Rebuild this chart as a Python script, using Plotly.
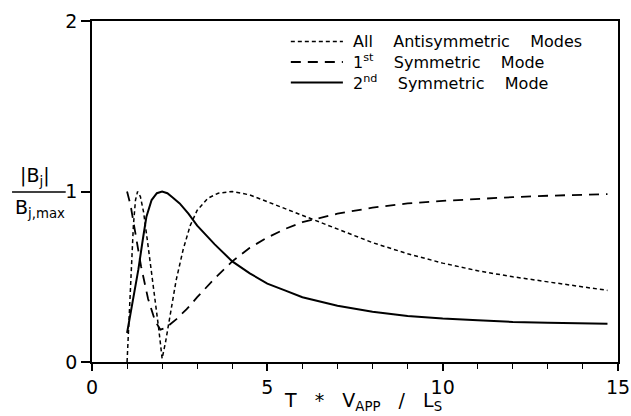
import plotly.graph_objects as go

# Data
anti_x = [1.0, 1.06, 1.12, 1.18, 1.24, 1.3, 1.38, 1.47, 1.6, 1.75, 1.9, 2.0, 2.1, 2.25, 2.4, 2.6,
          2.8, 3.0, 3.3, 3.6, 4.0, 4.5, 5.0, 5.5, 6.0, 7.0, 8.0, 9.0, 10.0, 11.0, 12.0, 13.0, 14.0, 14.7]
anti_y = [0.0, 0.3, 0.55, 0.8, 0.95, 1.0, 0.97, 0.88, 0.68, 0.45, 0.2, 0.02, 0.12, 0.3, 0.48, 0.66,
          0.8, 0.89, 0.96, 0.99, 1.0, 0.98, 0.94, 0.9, 0.86, 0.78, 0.7, 0.635, 0.58, 0.535, 0.5, 0.47, 0.44, 0.42]

sym1_x = [1.0, 1.1, 1.2, 1.4, 1.6, 1.8, 1.95, 2.1, 2.4, 2.7, 3.0, 3.5, 4.0, 4.5, 5.0, 5.5, 6.0,
          7.0, 8.0, 9.0, 10.0, 11.0, 12.0, 13.0, 14.0, 14.7]
sym1_y = [1.0, 0.92, 0.8, 0.56, 0.37, 0.24, 0.19, 0.2, 0.25, 0.31, 0.38, 0.49, 0.59, 0.67, 0.73, 0.78, 0.82,
          0.87, 0.905, 0.93, 0.945, 0.957, 0.967, 0.975, 0.982, 0.985]

sym2_x = [1.0, 1.1, 1.2, 1.32, 1.45, 1.55, 1.7, 1.85, 2.0, 2.15, 2.3, 2.5, 2.75, 3.0, 3.5, 4.0, 4.5,
          5.0, 5.5, 6.0, 7.0, 8.0, 9.0, 10.0, 11.0, 12.0, 13.0, 14.0, 14.7]
sym2_y = [0.17, 0.28, 0.4, 0.54, 0.72, 0.85, 0.95, 0.99, 1.0, 0.99, 0.965, 0.93, 0.87, 0.8, 0.69, 0.59, 0.52,
          0.46, 0.42, 0.38, 0.33, 0.295, 0.27, 0.255, 0.245, 0.235, 0.23, 0.225, 0.225]

names = ["All    Antisymmetric    Modes",
         "1<sup>st</sup>    Symmetric    Mode",
         "2<sup>nd</sup>    Symmetric    Mode"]
x_ticks = [0, 5, 10, 15]
y_ticks = [0, 1, 2]

FONT = "DejaVu Sans"
styles = [dict(color="black", width=1.5, dash="4px,3px"),
          dict(color="black", width=1.8, dash="10px,7px"),
          dict(color="black", width=2)]

fig = go.Figure()
for xs, ys, nm, st in zip([anti_x, sym1_x, sym2_x], [anti_y, sym1_y, sym2_y], names, styles):
    fig.add_trace(go.Scatter(x=xs, y=ys, mode="lines", name=nm, line=st, showlegend=False))

fig.update_layout(
    width=631, height=416,
    margin=dict(l=92, r=13, t=21, b=54),
    paper_bgcolor="white", plot_bgcolor="white",
    font=dict(family=FONT, color="black", size=16),
    showlegend=False,
)

fig.update_xaxes(range=[0, 15], tickvals=x_ticks, ticks="outside", ticklen=7,
                 tickwidth=1.5, tickcolor="black", showline=True, linecolor="black",
                 linewidth=1.5, mirror=True, showgrid=False, zeroline=False, automargin=False,
                 tickfont=dict(size=19, family=FONT),
                 minor=dict(dtick=1, ticks="outside", ticklen=5, tickwidth=1.2, tickcolor="black"))
fig.update_yaxes(range=[0, 2], tickvals=y_ticks, ticks="outside", ticklen=9,
                 tickwidth=1.5, tickcolor="black", showline=True, linecolor="black",
                 linewidth=1.5, mirror=True, showgrid=False, zeroline=False, automargin=False,
                 tickfont=dict(size=19, family=FONT))

# x-axis title
fig.add_annotation(xref="paper", yref="paper", x=0.515, y=-0.116,
                   text="T   *   V<sub>APP</sub>   /   L<sub>S</sub>", showarrow=False,
                   font=dict(size=19, family=FONT), xanchor="center", yanchor="middle")

# y-axis label as a fraction
fig.add_annotation(xref="paper", yref="paper", x=-0.108, y=0.502, text="|B<sub>j</sub>|",
                   showarrow=False, font=dict(size=19, family=FONT), xanchor="center", yanchor="bottom")
fig.add_annotation(xref="paper", yref="paper", x=-0.099, y=0.494, text="B<sub>j,max</sub>",
                   showarrow=False, font=dict(size=19, family=FONT), xanchor="center", yanchor="top")
fig.add_shape(type="line", xref="paper", yref="paper", x0=-0.152, x1=-0.05, y0=0.4985, y1=0.4985,
              line=dict(color="black", width=1.5))

# legend drawn as line samples and text
leg_rows = [0.94, 0.8798, 0.8196]
for nm, st, yy in zip(names, styles, leg_rows):
    fig.add_shape(type="line", xref="paper", yref="paper", x0=0.378, x1=0.477, y0=yy, y1=yy, line=st)
    fig.add_annotation(xref="paper", yref="paper", x=0.4924, y=yy, text=nm,
                       showarrow=False, font=dict(size=16, family=FONT), xanchor="left", yanchor="middle")

fig.write_html("out.html")
